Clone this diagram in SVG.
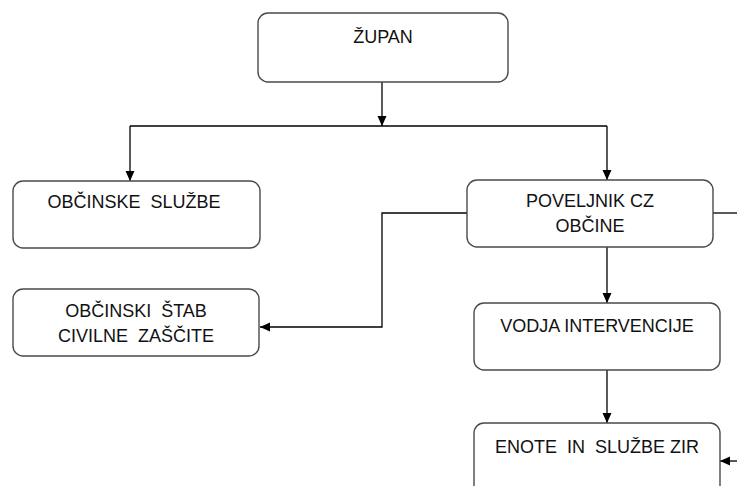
<svg xmlns="http://www.w3.org/2000/svg" width="737" height="486" viewBox="0 0 737 486">
<defs>
<marker id="arr" markerUnits="userSpaceOnUse" markerWidth="10" markerHeight="10" refX="10" refY="5" orient="auto">
<path d="M0,0.5 L10,5 L0,9.5 z" fill="#000"/>
</marker>
<style>
.box{fill:#fff;stroke:#4a4a4a;stroke-width:1.4}
.t{font-family:"Liberation Sans",Arial,sans-serif;font-size:18px;fill:#111;text-anchor:middle}
.c{fill:none;stroke:#000;stroke-width:1.3}
</style>
</defs>
<rect width="737" height="486" fill="#fff"/>
<g id="connectors">
<path class="c" d="M382,82 V126" marker-end="url(#arr)"/>
<path class="c" d="M130,126 H607"/>
<path class="c" d="M130,126 V181" marker-end="url(#arr)"/>
<path class="c" d="M607,126 V180" marker-end="url(#arr)"/>
<path class="c" d="M607,247 V303" marker-end="url(#arr)"/>
<path class="c" d="M607,370 V423" marker-end="url(#arr)"/>
<path class="c" d="M467,213 H382 V327 H260" marker-end="url(#arr)"/>
<path class="c" d="M713,213 H737"/>
<path class="c" d="M737,461 H720" marker-end="url(#arr)"/>
</g>
<g id="zupan">
<rect class="box" x="258" y="13" width="250" height="69" rx="10"/>
<text class="t" x="383" y="43">ŽUPAN</text>
</g>
<g id="obcinske-sluzbe">
<rect class="box" x="13" y="181" width="247" height="67" rx="10"/>
<text class="t" x="134" y="208" xml:space="preserve">OBČINSKE  SLUŽBE</text>
</g>
<g id="poveljnik">
<rect class="box" x="467" y="180" width="246" height="67" rx="10"/>
<text class="t" x="590" y="207">POVELJNIK CZ</text>
<text class="t" x="590" y="232">OBČINE</text>
</g>
<g id="stab">
<rect class="box" x="13" y="289" width="246" height="67" rx="10"/>
<text class="t" x="136" y="317" xml:space="preserve">OBČINSKI  ŠTAB</text>
<text class="t" x="136" y="342" xml:space="preserve">CIVILNE  ZAŠČITE</text>
</g>
<g id="vodja">
<rect class="box" x="474" y="303" width="246" height="67" rx="10"/>
<text class="t" x="597" y="332">VODJA INTERVENCIJE</text>
</g>
<g id="enote">
<rect class="box" x="474" y="423" width="246" height="80" rx="10"/>
<text class="t" x="597" y="453" xml:space="preserve">ENOTE  IN  SLUŽBE ZIR</text>
</g>
</svg>
